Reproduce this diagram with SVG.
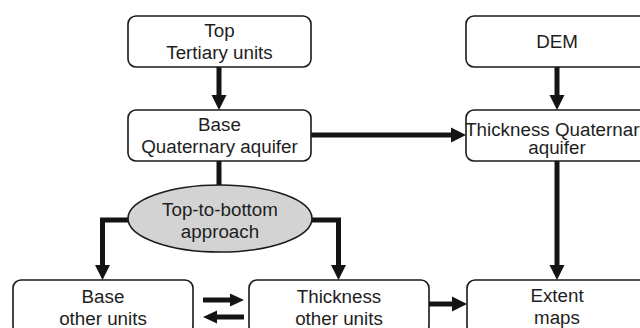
<svg xmlns="http://www.w3.org/2000/svg" width="640" height="328" viewBox="0 0 640 328">
<style>
.box{fill:#fff;stroke:#1a1a1a;stroke-width:1.6}
.ell{fill:#d3d3d3;stroke:#1a1a1a;stroke-width:1.6}
.t{font-family:"Liberation Sans",Arial,sans-serif;font-size:18.8px;fill:#1e1e1e;text-anchor:middle}
.c{fill:none;stroke:#141414;stroke-width:5;stroke-linecap:butt;stroke-linejoin:miter}
</style>
<defs>
<marker id="ah" markerUnits="userSpaceOnUse" markerWidth="15" markerHeight="15" refX="0" refY="7.5" orient="auto" overflow="visible">
<path d="M0,0 L15,7.5 L0,15 Z" fill="#141414"/>
</marker>
<marker id="ahs" markerUnits="userSpaceOnUse" markerWidth="14" markerHeight="13" refX="0" refY="6.5" orient="auto" overflow="visible">
<path d="M0,0 L14,6.5 L0,13 Z" fill="#141414"/>
</marker>
</defs>
<g id="connectors">
<path class="c" d="M219,67 V95" marker-end="url(#ah)"/>
<path class="c" d="M557,67 V95" marker-end="url(#ah)"/>
<path class="c" d="M311,135 H451" marker-end="url(#ah)"/>
<path class="c" d="M219,161 V186"/>
<path class="c" d="M130,220 H102.5 V265" marker-end="url(#ah)"/>
<path class="c" d="M310,220 H338.5 V265" marker-end="url(#ah)"/>
<path class="c" d="M557,161 V265" marker-end="url(#ah)"/>
<path class="c" d="M429,304 H452" marker-end="url(#ah)"/>
<path class="c" d="M203,300 H230" marker-end="url(#ahs)"/>
<path class="c" d="M244,317 H217" marker-end="url(#ahs)"/>
</g>
<g id="top-tertiary">
<rect class="box" x="128" y="16" width="183" height="51" rx="8"/>
<text class="t" x="219.5" y="37">Top</text>
<text class="t" x="219.5" y="59">Tertiary units</text>
</g>
<g id="dem">
<rect class="box" x="466" y="16" width="182" height="51" rx="8"/>
<text class="t" x="557" y="48">DEM</text>
</g>
<g id="base-quaternary">
<rect class="box" x="128" y="110" width="183" height="51" rx="8"/>
<text class="t" x="219.5" y="131">Base</text>
<text class="t" x="219.5" y="153">Quaternary aquifer</text>
</g>
<g id="thickness-quaternary">
<rect class="box" x="466" y="110" width="182" height="51" rx="8"/>
<text class="t" x="557" y="136">Thickness Quaternary</text>
<text class="t" x="557" y="154">aquifer</text>
</g>
<g id="approach">
<ellipse class="ell" cx="220" cy="218.5" rx="92" ry="33.5"/>
<text class="t" x="220" y="216">Top-to-bottom</text>
<text class="t" x="220" y="238">approach</text>
</g>
<g id="base-other">
<rect class="box" x="13" y="280" width="180" height="54" rx="8"/>
<text class="t" x="103" y="303">Base</text>
<text class="t" x="103" y="325">other units</text>
</g>
<g id="thickness-other">
<rect class="box" x="249" y="280" width="180" height="54" rx="8"/>
<text class="t" x="339" y="303">Thickness</text>
<text class="t" x="339" y="325">other units</text>
</g>
<g id="extent">
<rect class="box" x="467" y="280" width="181" height="54" rx="8"/>
<text class="t" x="557" y="302">Extent</text>
<text class="t" x="557" y="324">maps</text>
</g>
</svg>
